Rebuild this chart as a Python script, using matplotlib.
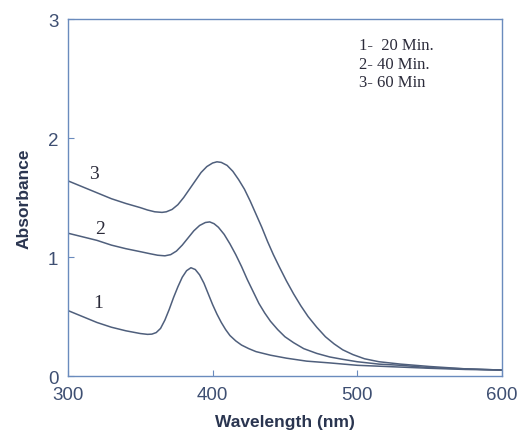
import numpy as np
import matplotlib
matplotlib.use('Agg')
import matplotlib.pyplot as plt

# values
wl_3 = [300, 310, 320, 330, 340, 350, 355, 360, 365, 368, 372, 376, 380, 384, 388, 392,
        396, 400, 403, 406, 410, 414, 418, 422, 426, 430, 434, 438, 442, 446, 451, 456,
        461, 466, 472, 478, 484, 490, 497, 505, 515, 530, 550, 575, 600]
abs_3 = [1.64, 1.59, 1.54, 1.49, 1.45, 1.415, 1.395, 1.38, 1.375, 1.38, 1.40, 1.44, 1.50,
         1.57, 1.64, 1.71, 1.76, 1.79, 1.80, 1.795, 1.77, 1.72, 1.65, 1.57, 1.47, 1.36, 1.25,
         1.13, 1.02, 0.92, 0.80, 0.69, 0.59, 0.50, 0.41, 0.33, 0.27, 0.22, 0.18, 0.145, 0.12,
         0.10, 0.08, 0.06, 0.05]

wl_2 = [300, 310, 320, 330, 340, 350, 357, 362, 367, 371, 375, 379, 383, 387, 391, 395,
        398, 401, 404, 408, 412, 416, 420, 424, 428, 432, 436, 440, 445, 450, 456, 463,
        472, 481, 490, 500, 515, 530, 550, 575, 600]
abs_2 = [1.20, 1.17, 1.14, 1.10, 1.07, 1.045, 1.027, 1.015, 1.01, 1.02, 1.05, 1.10, 1.16,
         1.22, 1.265, 1.29, 1.295, 1.28, 1.25, 1.19, 1.11, 1.02, 0.92, 0.81, 0.71, 0.61, 0.53,
         0.46, 0.39, 0.33, 0.28, 0.23, 0.19, 0.16, 0.14, 0.12, 0.10, 0.09, 0.07, 0.06, 0.05]

wl_1 = [300, 310, 320, 330, 340, 350, 355, 358, 361, 364, 367, 370, 373, 376, 379, 382,
        385, 388, 391, 394, 397, 400, 403, 406, 409, 412, 416, 420, 425, 430, 440, 451,
        465, 481, 500, 520, 550, 575, 600]
abs_1 = [0.55, 0.50, 0.45, 0.41, 0.38, 0.357, 0.350, 0.352, 0.365, 0.40, 0.47, 0.56, 0.66,
         0.75, 0.83, 0.885, 0.91, 0.895, 0.85, 0.78, 0.69, 0.60, 0.52, 0.45, 0.39, 0.34, 0.295,
         0.26, 0.23, 0.205, 0.175, 0.15, 0.125, 0.11, 0.09, 0.08, 0.065, 0.055, 0.05]

curve_labels = ['1', '2', '3']
label_pos = [(321, 0.62), (322, 1.24), (318, 1.70)]
legend_lines = ['1-  20 Min.', '2- 40 Min.', '3- 60 Min']

line_col = '#4f5f7c'
spine_col = '#6a8bbd'
tick_col = '#3e4f72'

fig = plt.figure(figsize=(5.19, 4.39), dpi=100)
ax = fig.add_axes([0.131, 0.1412, 0.836, 0.8132])

for wl, ab in [(wl_1, abs_1), (wl_2, abs_2), (wl_3, abs_3)]:
    ax.plot(wl, ab, color=line_col, lw=1.1)

for lab, (x, y) in zip(curve_labels, label_pos):
    ax.text(x, y, lab, family='Liberation Serif', fontsize=14, color='#2b2b3a',
            ha='center', va='center')

for i, s in enumerate(legend_lines):
    ax.text(501, 2.78 - i * 0.155, s, family='Liberation Serif', fontsize=12,
            color='#2b2b3a', ha='left', va='center')

ax.set_xlim(300, 600)
ax.set_ylim(0, 3)
ax.set_xticks([300, 400, 500, 600])
ax.set_yticks([0, 1, 2, 3])
ax.tick_params(direction='in', length=4, color=spine_col, labelcolor=tick_col,
               labelsize=13.5, pad=7)
for lbl in ax.get_xticklabels() + ax.get_yticklabels():
    lbl.set_family('Liberation Sans')
for sp in ax.spines.values():
    sp.set_color(spine_col)
    sp.set_linewidth(1.0)

ax.set_xlabel('Wavelength (nm)', family='Liberation Sans', fontsize=12.5,
              fontweight='bold', color='#2a3550', labelpad=8)
ax.set_ylabel('Absorbance', family='Liberation Sans', fontsize=12.5,
              fontweight='bold', color='#2a3550', labelpad=12)

fig.savefig('out.png', dpi=100)
